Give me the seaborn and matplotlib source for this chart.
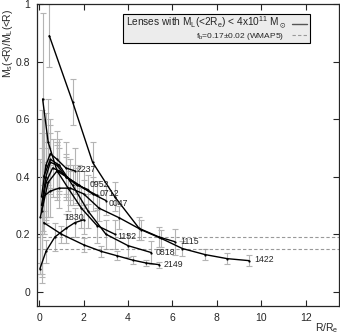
import numpy as np
import matplotlib
matplotlib.use('Agg')
import matplotlib.pyplot as plt
import seaborn as sns
from matplotlib.patches import Rectangle

# --- data (R/Re, Ms/ML, error) ---
names = ['1115', '1422', '0952', '0712', '0047', '1152', '0818', '2149', '1830', '2237']

x_1115 = [0.45, 1.5, 2.4, 3.4, 4.5, 5.4, 6.1]
y_1115 = [0.89, 0.66, 0.45, 0.33, 0.22, 0.19, 0.174]
e_1115 = [0.11, 0.08, 0.07, 0.05, 0.04, 0.035, 0.045]

x_1422 = [0.17, 0.5, 0.9, 1.4, 2.0, 2.7, 3.6, 4.6, 5.5, 6.45, 7.47, 8.46, 9.45]
y_1422 = [0.33, 0.35, 0.36, 0.36, 0.34, 0.29, 0.257, 0.215, 0.185, 0.15, 0.129, 0.115, 0.108]
e_1422 = [0.12, 0.09, 0.07, 0.06, 0.05, 0.045, 0.04, 0.035, 0.03, 0.025, 0.02, 0.02, 0.02]

x_0952 = [0.1, 0.3, 0.5, 0.8, 1.2, 1.7, 2.2]
y_0952 = [0.30, 0.40, 0.45, 0.44, 0.40, 0.37, 0.355]
e_0952 = [0.25, 0.15, 0.10, 0.08, 0.07, 0.06, 0.05]

x_0712 = [0.1, 0.3, 0.6, 0.9, 1.4, 2.0, 2.6]
y_0712 = [0.28, 0.38, 0.43, 0.42, 0.39, 0.36, 0.335]
e_0712 = [0.22, 0.14, 0.10, 0.08, 0.07, 0.06, 0.05]

x_0047 = [0.05, 0.4, 0.8, 1.2, 1.8, 2.4, 3.0]
y_0047 = [0.26, 0.38, 0.42, 0.40, 0.37, 0.34, 0.317]
e_0047 = [0.20, 0.12, 0.09, 0.08, 0.07, 0.06, 0.05]

x_1152 = [0.15, 0.4, 0.8, 1.3, 1.9, 2.6, 3.4]
y_1152 = [0.67, 0.52, 0.42, 0.36, 0.29, 0.23, 0.20]
e_1152 = [0.30, 0.15, 0.10, 0.08, 0.07, 0.06, 0.05]

x_0818 = [0.2, 0.5, 0.9, 1.5, 2.2, 3.0, 4.0, 5.05]
y_0818 = [0.40, 0.46, 0.44, 0.37, 0.28, 0.20, 0.16, 0.136]
e_0818 = [0.20, 0.12, 0.09, 0.07, 0.06, 0.05, 0.04, 0.04]

x_2149 = [0.2, 1.0, 2.0, 2.8, 3.5, 4.2, 4.8, 5.4]
y_2149 = [0.24, 0.20, 0.163, 0.14, 0.125, 0.11, 0.10, 0.094]
e_2149 = [0.04, 0.03, 0.025, 0.02, 0.015, 0.015, 0.01, 0.01]

x_1830 = [0.03, 0.3, 0.7, 1.2, 1.6, 2.0]
y_1830 = [0.08, 0.14, 0.19, 0.22, 0.24, 0.25]
e_1830 = [0.02, 0.04, 0.05, 0.05, 0.05, 0.05]

x_2237 = [0.1, 0.3, 0.5, 0.8, 1.2, 1.6]
y_2237 = [0.33, 0.44, 0.48, 0.46, 0.43, 0.42]
e_2237 = [0.30, 0.18, 0.12, 0.10, 0.09, 0.08]

fb = 0.17
fb_err = 0.02

curves = {
    '1115': (x_1115, y_1115, e_1115),
    '1422': (x_1422, y_1422, e_1422),
    '0952': (x_0952, y_0952, e_0952),
    '0712': (x_0712, y_0712, e_0712),
    '0047': (x_0047, y_0047, e_0047),
    '1152': (x_1152, y_1152, e_1152),
    '0818': (x_0818, y_0818, e_0818),
    '2149': (x_2149, y_2149, e_2149),
    '1830': (x_1830, y_1830, e_1830),
    '2237': (x_2237, y_2237, e_2237),
}
# label offsets (points) from the last point of each curve
label_off = {
    '1115': (4, 0, 'left'), '1422': (4, 1, 'left'), '0952': (1, 4, 'left'),
    '0712': (2, 1, 'left'), '0047': (2, -2, 'left'), '1152': (2, -2, 'left'),
    '0818': (3, 0, 'left'), '2149': (3, 0, 'left'), '1830': (0, 2, 'right'),
    '2237': (1, 1, 'left'),
}

sns.set_style('ticks')
plt.rcParams['font.family'] = ['Liberation Sans', 'DejaVu Sans']
plt.rcParams['mathtext.default'] = 'regular'

fig = plt.figure(figsize=(3.4, 3.36), dpi=100)
ax = fig.add_axes([0.109, 0.089, 0.888, 0.899])

# error bars first (grey)
for name in names:
    xs, ys, es = curves[name]
    ax.errorbar(xs, ys, yerr=es, fmt='none', ecolor='#b4b4b4', elinewidth=0.8,
                capsize=2.2, capthick=0.8, zorder=1)

# fb band
for yv in (fb + fb_err, fb - fb_err):
    ax.axhline(yv, color='#999999', lw=0.8, ls=(0, (3, 2)), zorder=2)

# curves
for name in names:
    xs, ys, es = curves[name]
    sns.lineplot(x=xs, y=ys, sort=False, color='black', lw=1.0, marker='o',
                 markersize=1.6, markeredgewidth=0, ax=ax, zorder=3)
    dx, dy, ha = label_off[name]
    ax.annotate(name, (xs[-1], ys[-1]), xytext=(dx, dy), textcoords='offset points',
                ha=ha, va='center', fontsize=6.3, zorder=4)

ax.set_xlim(-0.1, 13.5)
ax.set_ylim(-0.05, 1.0)
ax.set_xticks([0, 2, 4, 6, 8, 10, 12])
ax.set_yticks([0, 0.2, 0.4, 0.6, 0.8, 1.0])
ax.set_yticklabels(['0', '0.2', '0.4', '0.6', '0.8', '1'])
ax.tick_params(direction='in', top=True, right=True, length=4, width=0.8,
               labelsize=7.5, pad=5)
for s in ax.spines.values():
    s.set_linewidth(0.9)
    s.set_visible(True)

ax.set_ylabel(r'M$_s$(<R)/M$_L$(<R)', fontsize=7.5)
ax.yaxis.set_label_coords(-0.096, 0.985)
ax.yaxis.label.set_ha('right')
ax.yaxis.label.set_va('center')
ax.set_xlabel(r'R/R$_e$', fontsize=7.5)
ax.xaxis.set_label_coords(1.0, -0.05)
ax.xaxis.label.set_ha('right')

# gnuplot-style key
ax.add_patch(Rectangle((0.285, 0.871), 0.619, 0.096, transform=ax.transAxes,
                       facecolor='#ececec', edgecolor='black', lw=0.8, zorder=5))
ax.text(0.828, 0.938, r'Lenses with M$_L$(<2R$_e$) < 4x10$^{11}$ M$_\odot$',
        transform=ax.transAxes, ha='right', va='center', fontsize=7.3, zorder=6)
ax.plot([0.844, 0.894], [0.935, 0.935], transform=ax.transAxes, color='#555555',
        lw=1.0, zorder=6)
ax.text(0.818, 0.893, r'f$_b$=0.17$\pm$0.02 (WMAP5)', transform=ax.transAxes,
        ha='right', va='center', fontsize=6.0, zorder=6)
ax.plot([0.844, 0.894], [0.897, 0.897], transform=ax.transAxes, color='#999999',
        lw=0.8, ls=(0, (3, 2)), zorder=6)

fig.savefig('out.png', dpi=100)
